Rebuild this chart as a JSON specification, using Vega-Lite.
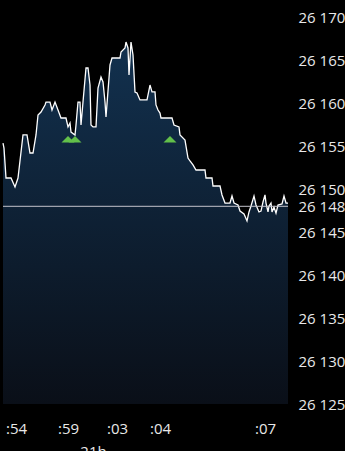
{
  "$schema": "https://vega.github.io/schema/vega-lite/v6.json",
  "width": 285,
  "height": 404,
  "padding": 0,
  "background": "#000000",
  "config": {
    "view": {"stroke": null},
    "font": "Open Sans",
    "axis": {"labelColor": "#e8e8e8", "labelFont": "Open Sans", "labelFontSize": 15, "grid": false, "ticks": false, "domain": false, "titleColor": "#e8e8e8", "titleFont": "Open Sans", "titleFontSize": 15, "titleFontWeight": "normal"}
  },
  "datasets": {
    "price": [
      {"i": 0, "v": 26155.36}, {"i": 1, "v": 26154.78}, {"i": 3, "v": 26151.29}, {"i": 8, "v": 26151.29},
      {"i": 12, "v": 26150.25}, {"i": 15, "v": 26151.29}, {"i": 20, "v": 26156.3}, {"i": 24, "v": 26156.3},
      {"i": 27, "v": 26154.2}, {"i": 30, "v": 26154.2}, {"i": 33, "v": 26156.3}, {"i": 35, "v": 26158.62},
      {"i": 38, "v": 26158.97}, {"i": 42, "v": 26159.79}, {"i": 43, "v": 26160.13}, {"i": 47, "v": 26160.13},
      {"i": 49, "v": 26159.2}, {"i": 52, "v": 26160.13}, {"i": 55, "v": 26159.2}, {"i": 58, "v": 26158.27},
      {"i": 63, "v": 26158.27}, {"i": 65, "v": 26157.23}, {"i": 67, "v": 26157.69}, {"i": 68, "v": 26156.64},
      {"i": 72, "v": 26156.3}, {"i": 73, "v": 26157.46}, {"i": 75, "v": 26160.13}, {"i": 77, "v": 26160.13},
      {"i": 78, "v": 26157.46}, {"i": 80, "v": 26160.13}, {"i": 83, "v": 26164.09}, {"i": 85, "v": 26164.09},
      {"i": 87, "v": 26162.11}, {"i": 88, "v": 26157.46}, {"i": 90, "v": 26157.23}, {"i": 93, "v": 26157.23},
      {"i": 95, "v": 26161.76}, {"i": 98, "v": 26163.04}, {"i": 100, "v": 26162.46}, {"i": 102, "v": 26160.13},
      {"i": 103, "v": 26158.39}, {"i": 107, "v": 26164.44}, {"i": 109, "v": 26165.25}, {"i": 117, "v": 26165.25},
      {"i": 118, "v": 26165.95}, {"i": 122, "v": 26166.42}, {"i": 123, "v": 26167.11}, {"i": 125, "v": 26166.42},
      {"i": 126, "v": 26163.27}, {"i": 128, "v": 26167.11}, {"i": 130, "v": 26165.6}, {"i": 132, "v": 26161.3},
      {"i": 134, "v": 26161.18}, {"i": 137, "v": 26160.37}, {"i": 144, "v": 26160.37}, {"i": 147, "v": 26162.11},
      {"i": 149, "v": 26161.3}, {"i": 152, "v": 26161.3}, {"i": 153, "v": 26159.79}, {"i": 155, "v": 26159.2},
      {"i": 157, "v": 26158.85}, {"i": 158, "v": 26158.27}, {"i": 169, "v": 26158.27}, {"i": 171, "v": 26157.46},
      {"i": 176, "v": 26157.23}, {"i": 177, "v": 26156.3}, {"i": 182, "v": 26155.71}, {"i": 185, "v": 26153.62},
      {"i": 187, "v": 26153.27}, {"i": 190, "v": 26152.81}, {"i": 193, "v": 26152.22}, {"i": 202, "v": 26152.22},
      {"i": 203, "v": 26151.29}, {"i": 209, "v": 26151.29}, {"i": 210, "v": 26150.36}, {"i": 217, "v": 26150.36},
      {"i": 219, "v": 26149.32}, {"i": 222, "v": 26148.38}, {"i": 227, "v": 26148.38}, {"i": 229, "v": 26149.2},
      {"i": 231, "v": 26148.38}, {"i": 235, "v": 26148.15}, {"i": 237, "v": 26147.45}, {"i": 241, "v": 26147.1},
      {"i": 244, "v": 26146.29}, {"i": 246, "v": 26147.34}, {"i": 248, "v": 26148.04}, {"i": 251, "v": 26149.2},
      {"i": 253, "v": 26148.15}, {"i": 256, "v": 26147.34}, {"i": 258, "v": 26147.45}, {"i": 260, "v": 26148.5},
      {"i": 262, "v": 26149.32}, {"i": 263, "v": 26148.38}, {"i": 265, "v": 26147.34}, {"i": 266, "v": 26148.04},
      {"i": 268, "v": 26148.38}, {"i": 269, "v": 26147.34}, {"i": 271, "v": 26147.9}, {"i": 273, "v": 26147.2},
      {"i": 275, "v": 26148.15}, {"i": 279, "v": 26148.27}, {"i": 281, "v": 26149.2}, {"i": 283, "v": 26148.38},
      {"i": 285, "v": 26148.38}
    ],
    "signals": [
      {"i": 65, "v": 26155.8}, {"i": 72, "v": 26155.8}, {"i": 167, "v": 26155.8}
    ]
  },
  "encoding": {
    "x": {
      "field": "i", "type": "quantitative",
      "scale": {"domain": [0, 285], "nice": false, "zero": false},
      "axis": {
        "values": [13, 65, 114, 157, 262],
        "labelExpr": "datum.value == 13 ? ':54' : datum.value == 65 ? ':59' : datum.value == 114 ? ':03' : datum.value == 157 ? ':04' : ':07'",
        "labelFlush": false,
        "labelPadding": 17,
        "title": "21h",
        "titleX": 90,
        "titleY": 40,
        "titleBaseline": "top",
        "titleAlign": "center",
        "titleAnchor": null
      }
    },
    "y": {
      "field": "v", "type": "quantitative",
      "scale": {"domain": [26125, 26172], "nice": false, "zero": false},
      "axis": {
        "orient": "right",
        "values": [26125, 26130, 26135, 26140, 26145, 26150, 26155, 26160, 26165, 26170, 26148],
        "labelExpr": "replace(format(datum.value, ','), ',', ' ')",
        "labelOverlap": false,
        "labelPadding": 10,
        "labelBound": false,
        "title": null
      }
    }
  },
  "layer": [
    {
      "data": {"name": "price"},
      "mark": {
        "type": "area",
        "interpolate": "linear",
        "color": {"gradient": "linear", "x1": 0, "y1": 0, "x2": 0, "y2": 1,
          "stops": [{"offset": 0, "color": "#12314f"}, {"offset": 1, "color": "#0a0f18"}]}
      },
      "encoding": {"y2": {"datum": 26125}}
    },
    {
      "data": {"name": "price"},
      "mark": {"type": "line", "interpolate": "linear", "color": "#ffffff", "strokeWidth": 1.3}
    },
    {
      "data": {"values": [{"v": 26148}]},
      "mark": {"type": "rule", "color": "#c4c4cc", "strokeWidth": 1},
      "encoding": {"x": null}
    },
    {
      "data": {"name": "signals"},
      "mark": {"type": "point", "shape": "M-1,0.5L0,-0.5L1,0.5Z", "size": 169, "filled": true, "color": "#62c04a", "opacity": 1}
    }
  ]
}
